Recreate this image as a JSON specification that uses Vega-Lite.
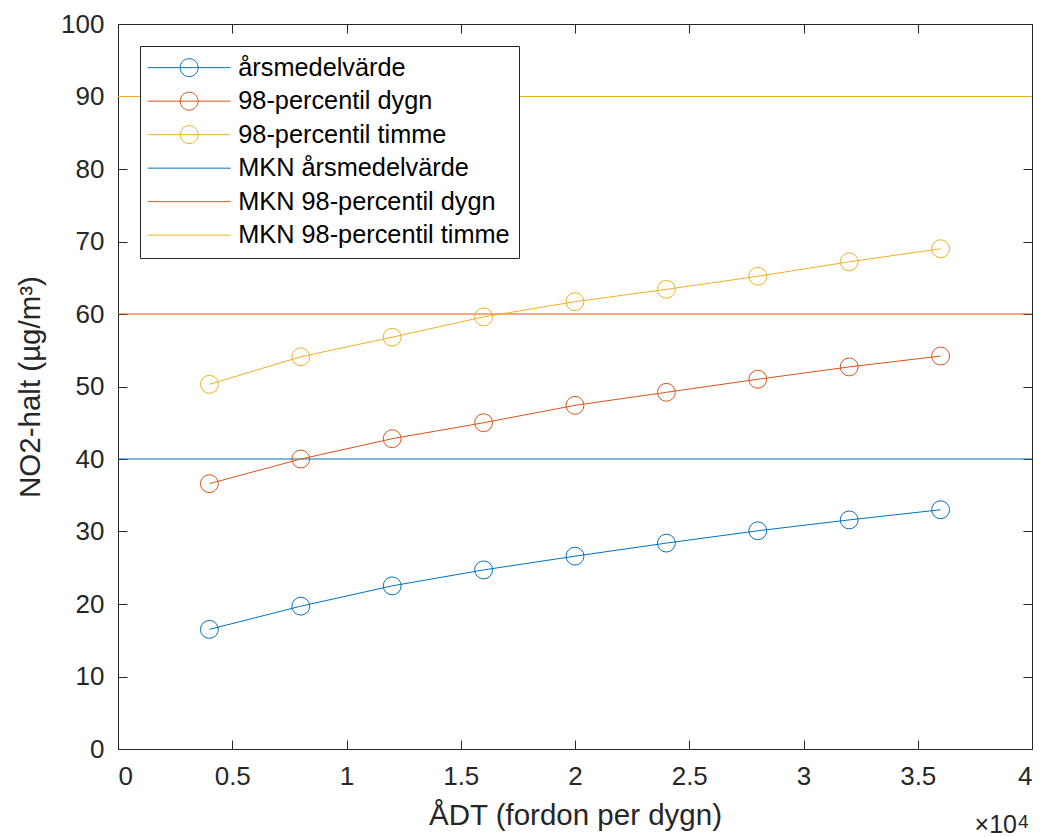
{
  "$schema": "https://vega.github.io/schema/vega-lite/v6.json",
  "width": 914,
  "height": 725,
  "autosize": "none",
  "padding": {"left": 118, "top": 24, "right": 8, "bottom": 88},
  "background": "white",
  "config": {
    "view": {"stroke": null},
    "font": "Liberation Sans",
    "axis": {
      "grid": false,
      "labelFont": "Liberation Sans",
      "labelFontSize": 26,
      "labelColor": "#262626",
      "domainColor": "#262626",
      "tickColor": "#262626",
      "titleFont": "Liberation Sans",
      "titleFontSize": 29.5,
      "titleFontWeight": "normal",
      "titleColor": "#262626",
      "tickSize": -9,
      "labelPadding": 23
    },
    "legend": {
      "labelFont": "Liberation Sans",
      "labelFontSize": 25.3,
      "labelColor": "#000000",
      "labelLimit": 500
    }
  },
  "datasets": {
    "series": [
      {"adt": 4000, "halt": 16.5, "serie": "årsmedelvärde"},
      {"adt": 8000, "halt": 19.7, "serie": "årsmedelvärde"},
      {"adt": 12000, "halt": 22.5, "serie": "årsmedelvärde"},
      {"adt": 16000, "halt": 24.7, "serie": "årsmedelvärde"},
      {"adt": 20000, "halt": 26.6, "serie": "årsmedelvärde"},
      {"adt": 24000, "halt": 28.4, "serie": "årsmedelvärde"},
      {"adt": 28000, "halt": 30.1, "serie": "årsmedelvärde"},
      {"adt": 32000, "halt": 31.6, "serie": "årsmedelvärde"},
      {"adt": 36000, "halt": 33.0, "serie": "årsmedelvärde"},
      {"adt": 4000, "halt": 36.6, "serie": "98-percentil dygn"},
      {"adt": 8000, "halt": 40.0, "serie": "98-percentil dygn"},
      {"adt": 12000, "halt": 42.8, "serie": "98-percentil dygn"},
      {"adt": 16000, "halt": 45.0, "serie": "98-percentil dygn"},
      {"adt": 20000, "halt": 47.4, "serie": "98-percentil dygn"},
      {"adt": 24000, "halt": 49.2, "serie": "98-percentil dygn"},
      {"adt": 28000, "halt": 51.0, "serie": "98-percentil dygn"},
      {"adt": 32000, "halt": 52.7, "serie": "98-percentil dygn"},
      {"adt": 36000, "halt": 54.2, "serie": "98-percentil dygn"},
      {"adt": 4000, "halt": 50.3, "serie": "98-percentil timme"},
      {"adt": 8000, "halt": 54.1, "serie": "98-percentil timme"},
      {"adt": 12000, "halt": 56.8, "serie": "98-percentil timme"},
      {"adt": 16000, "halt": 59.6, "serie": "98-percentil timme"},
      {"adt": 20000, "halt": 61.7, "serie": "98-percentil timme"},
      {"adt": 24000, "halt": 63.4, "serie": "98-percentil timme"},
      {"adt": 28000, "halt": 65.2, "serie": "98-percentil timme"},
      {"adt": 32000, "halt": 67.2, "serie": "98-percentil timme"},
      {"adt": 36000, "halt": 69.0, "serie": "98-percentil timme"}
    ],
    "mkn": [
      {"halt": 40, "serie": "MKN årsmedelvärde"},
      {"halt": 60, "serie": "MKN 98-percentil dygn"},
      {"halt": 90, "serie": "MKN 98-percentil timme"}
    ]
  },
  "resolve": {"axis": {"x": "independent", "y": "independent"}},
  "layer": [
    {
      "data": {"name": "mkn"},
      "mark": {"type": "rule", "strokeWidth": 1},
      "encoding": {
        "y": {"field": "halt", "type": "quantitative", "scale": {"domain": [0, 100], "nice": false},
              "axis": {"orient": "left", "values": [0,10,20,30,40,50,60,70,80,90,100], "title": "NO2-halt (µg/m³)", "titlePadding": 15}},
        "stroke": {"field": "serie", "type": "nominal", "legend": null,
          "scale": {"domain": ["MKN årsmedelvärde", "MKN 98-percentil dygn", "MKN 98-percentil timme", "årsmedelvärde", "98-percentil dygn", "98-percentil timme"],
                    "range": ["#0072BD", "#D95319", "#EDB120", "#0072BD", "#D95319", "#EDB120"]}}
      }
    },
    {
      "data": {"name": "series"},
      "mark": {"type": "line", "strokeWidth": 1},
      "encoding": {
        "x": {"field": "adt", "type": "quantitative", "scale": {"domain": [0, 40000], "nice": false},
              "axis": {"orient": "bottom", "values": [0,5000,10000,15000,20000,25000,30000,35000,40000], "labelExpr": "datum.value/10000", "title": "ÅDT (fordon per dygn)", "titlePadding": 12}},
        "y": {"field": "halt", "type": "quantitative", "axis": null},
        "stroke": {"field": "serie", "type": "nominal", "legend": null}
      }
    },
    {
      "data": {"name": "series"},
      "mark": {"type": "point", "filled": false, "size": 320, "strokeWidth": 1, "opacity": 1},
      "encoding": {
        "x": {"field": "adt", "type": "quantitative", "axis": null},
        "y": {"field": "halt", "type": "quantitative", "axis": null},
        "stroke": {"field": "serie", "type": "nominal", "legend": null}
      }
    },
    {
      "data": {"name": "series"},
      "transform": [{"filter": "false"}],
      "mark": {"type": "point", "filled": false, "strokeWidth": 1, "opacity": 1},
      "encoding": {
        "x": {"field": "adt", "type": "quantitative",
              "axis": {"orient": "top", "values": [0,5000,10000,15000,20000,25000,30000,35000,40000], "labels": false, "title": null}},
        "y": {"field": "halt", "type": "quantitative",
              "axis": {"orient": "right", "values": [0,10,20,30,40,50,60,70,80,90,100], "labels": false, "title": null}},
        "color": {"field": "serie", "type": "nominal",
          "scale": {"domain": ["årsmedelvärde", "98-percentil dygn", "98-percentil timme", "MKN årsmedelvärde", "MKN 98-percentil dygn", "MKN 98-percentil timme"],
                    "range": ["#0072BD", "#D95319", "#EDB120", "#0072BD", "#D95319", "#EDB120"]},
          "legend": {"title": null, "orient": "top-left", "offset": 22, "padding": 9,
                     "strokeColor": "#262626", "fillColor": "white", "cornerRadius": 0,
                     "symbolSize": 100, "symbolStrokeWidth": 1, "symbolOffset": 27.5,
                     "labelOffset": 36.5, "rowPadding": 7.5, "symbolFillColor": "transparent", "symbolOpacity": 1}},
        "shape": {"field": "serie", "type": "nominal",
          "scale": {"domain": ["årsmedelvärde", "98-percentil dygn", "98-percentil timme", "MKN årsmedelvärde", "MKN 98-percentil dygn", "MKN 98-percentil timme"],
                    "range": ["M-8.3,0H8.3M1.8,0A1.8,1.8 0 1 1 -1.8,0A1.8,1.8 0 1 1 1.8,0", "M-8.3,0H8.3M1.8,0A1.8,1.8 0 1 1 -1.8,0A1.8,1.8 0 1 1 1.8,0", "M-8.3,0H8.3M1.8,0A1.8,1.8 0 1 1 -1.8,0A1.8,1.8 0 1 1 1.8,0", "M-8.3,0H8.3", "M-8.3,0H8.3", "M-8.3,0H8.3"]}}
      }
    },
    {
      "data": {"values": [{"lbl": "×10"}]},
      "mark": {"type": "text", "align": "right", "baseline": "alphabetic", "dy": 84, "dx": -15, "fontSize": 25, "font": "Liberation Sans", "color": "#262626"},
      "encoding": {
        "x": {"datum": 40000, "type": "quantitative", "axis": null},
        "y": {"datum": 0, "type": "quantitative", "axis": null},
        "text": {"field": "lbl"}
      }
    },
    {
      "data": {"values": [{"lbl": "4"}]},
      "mark": {"type": "text", "align": "left", "baseline": "alphabetic", "dy": 79, "dx": -14, "fontSize": 19, "font": "Liberation Sans", "color": "#262626"},
      "encoding": {
        "x": {"datum": 40000, "type": "quantitative", "axis": null},
        "y": {"datum": 0, "type": "quantitative", "axis": null},
        "text": {"field": "lbl"}
      }
    }
  ]
}
